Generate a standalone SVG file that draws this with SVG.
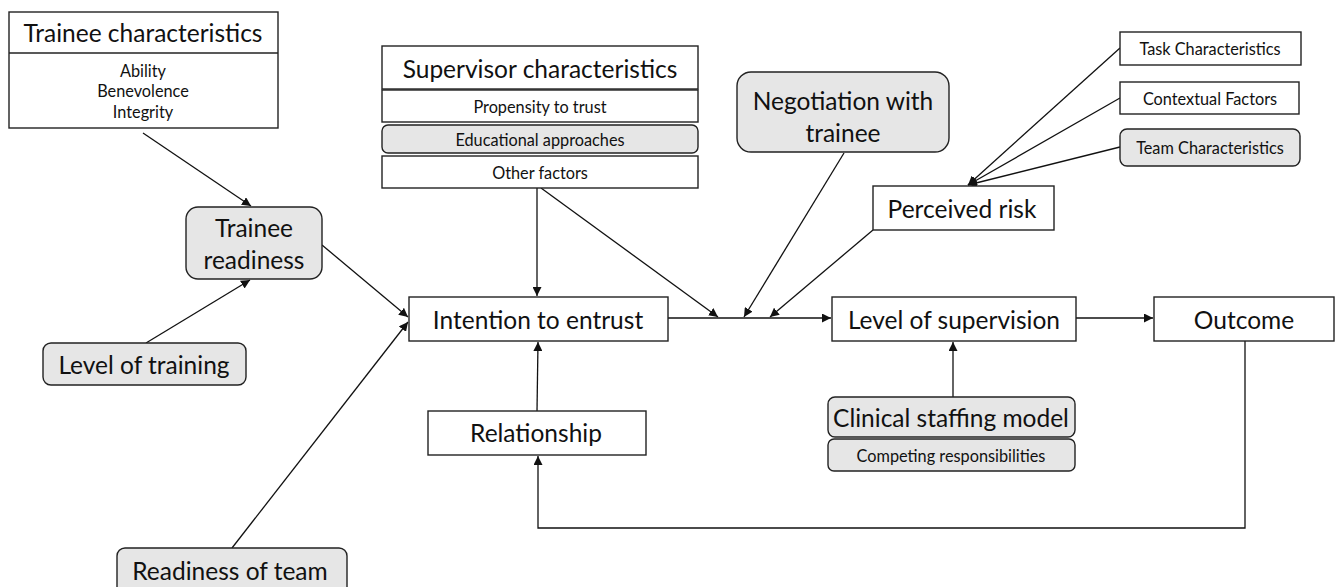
<svg xmlns="http://www.w3.org/2000/svg" width="1335" height="587" viewBox="0 0 1335 587">
<defs>
<marker id="arr" viewBox="0 0 10 10" refX="10" refY="5" markerWidth="9" markerHeight="9" markerUnits="userSpaceOnUse" orient="auto">
<path d="M0,0 L10,5 L0,10 z" fill="#111"/>
</marker>
<style>
.w{fill:#fff;stroke:#222;stroke-width:1.4}
.g{fill:#e6e6e6;stroke:#222;stroke-width:1.4}
text{font-family:Lato,"Open Sans",sans-serif;fill:#111;text-anchor:middle;dominant-baseline:central}
.L{font-size:24.5px}
.S{font-size:16.3px}
.c line,.c path{stroke:#111;stroke-width:1.3;fill:none}
</style>
</defs>
<rect width="1335" height="587" fill="#fff"/>
<g class="c">
<line x1="143" y1="133" x2="251" y2="206" marker-end="url(#arr)"/>
<line x1="146" y1="343" x2="250" y2="280" marker-end="url(#arr)"/>
<line x1="322" y1="245" x2="408" y2="317" marker-end="url(#arr)"/>
<line x1="232" y1="548" x2="408" y2="322" marker-end="url(#arr)"/>
<line x1="537" y1="188" x2="537" y2="296" marker-end="url(#arr)"/>
<line x1="541" y1="188" x2="718" y2="317" marker-end="url(#arr)"/>
<line x1="668" y1="318" x2="831" y2="318" marker-end="url(#arr)"/>
<line x1="844" y1="153" x2="744" y2="317" marker-end="url(#arr)"/>
<line x1="873" y1="230" x2="770" y2="317" marker-end="url(#arr)"/>
<line x1="1120" y1="48" x2="968" y2="185" marker-end="url(#arr)"/>
<line x1="1120" y1="98" x2="968" y2="185" marker-end="url(#arr)"/>
<line x1="1120" y1="147" x2="968" y2="185" marker-end="url(#arr)"/>
<line x1="953" y1="397" x2="953" y2="342" marker-end="url(#arr)"/>
<line x1="1076" y1="318" x2="1153" y2="318" marker-end="url(#arr)"/>
<path d="M1245,341 V528 H538 V456" marker-end="url(#arr)"/>
<line x1="537" y1="411" x2="538" y2="342" marker-end="url(#arr)"/>
</g>
<g id="trainee-characteristics">
<rect class="w" x="9" y="12" width="269" height="116"/>
<line x1="9" y1="53" x2="278" y2="53" stroke="#222" stroke-width="1.6"/>
<text class="L" x="143" y="32">Trainee characteristics</text>
<text class="S" x="143" y="70">Ability</text>
<text class="S" x="143" y="90.5">Benevolence</text>
<text class="S" x="143" y="111">Integrity</text>
</g>
<g id="supervisor-characteristics">
<rect class="w" x="382" y="46" width="316" height="43"/>
<text class="L" x="540" y="68">Supervisor characteristics</text>
<rect class="w" x="382" y="90" width="316" height="32"/>
<text class="S" x="540" y="106">Propensity to trust</text>
<rect class="g" x="382" y="125" width="316" height="28" rx="6"/>
<text class="S" x="540" y="139">Educational approaches</text>
<rect class="w" x="382" y="156" width="316" height="32"/>
<text class="S" x="540" y="172">Other factors</text>
</g>
<g id="negotiation">
<rect class="g" x="737" y="72" width="212" height="80" rx="14"/>
<text class="L" x="843" y="100">Negotiation with</text>
<text class="L" x="843" y="132">trainee</text>
</g>
<g id="perceived-risk">
<rect class="w" x="873" y="186" width="181" height="44"/>
<text class="L" x="962" y="208">Perceived risk</text>
</g>
<g id="task-characteristics">
<rect class="w" x="1120" y="32" width="181" height="33"/>
<text class="S" x="1210" y="48">Task Characteristics</text>
</g>
<g id="contextual-factors">
<rect class="w" x="1120" y="82" width="179" height="32"/>
<text class="S" x="1210" y="98">Contextual Factors</text>
</g>
<g id="team-characteristics">
<rect class="g" x="1120" y="129" width="180" height="37" rx="7"/>
<text class="S" x="1210" y="147">Team Characteristics</text>
</g>
<g id="trainee-readiness">
<rect class="g" x="186" y="207" width="136" height="72" rx="12"/>
<text class="L" x="254" y="227">Trainee</text>
<text class="L" x="254" y="259">readiness</text>
</g>
<g id="level-of-training">
<rect class="g" x="43" y="343" width="203" height="42" rx="8"/>
<text class="L" x="144" y="364">Level of training</text>
</g>
<g id="readiness-of-team">
<rect class="g" x="117" y="548" width="230" height="48" rx="8"/>
<text class="L" x="230" y="570">Readiness of team</text>
</g>
<g id="intention">
<rect class="w" x="409" y="297" width="259" height="44"/>
<text class="L" x="538" y="319">Intention to entrust</text>
</g>
<g id="level-of-supervision">
<rect class="w" x="832" y="297" width="244" height="44"/>
<text class="L" x="954" y="319">Level of supervision</text>
</g>
<g id="outcome">
<rect class="w" x="1154" y="297" width="180" height="44"/>
<text class="L" x="1244" y="319">Outcome</text>
</g>
<g id="relationship">
<rect class="w" x="428" y="411" width="218" height="44"/>
<text class="L" x="536" y="432">Relationship</text>
</g>
<g id="clinical-staffing">
<rect class="g" x="828" y="397" width="247" height="40" rx="7"/>
<text class="L" x="951" y="417">Clinical staffing model</text>
<rect class="g" x="828" y="439" width="247" height="32" rx="6"/>
<text class="S" x="951" y="455">Competing responsibilities</text>
</g>
</svg>
